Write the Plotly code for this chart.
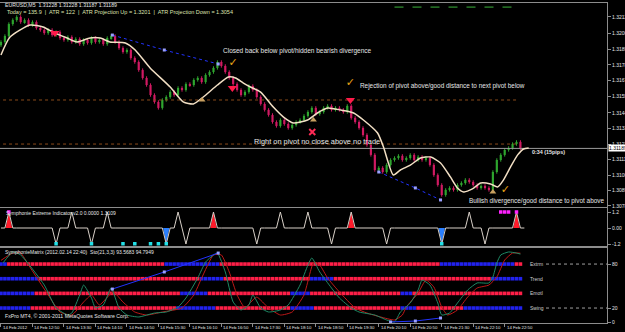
import plotly.graph_objects as go

# ---------------- data ----------------
time_tick_bars = [0, 8, 16, 24, 32, 40, 48, 56, 64, 72, 80, 88, 96, 104, 112, 120, 128]
time_tick_labels = ["14 Feb 2012", "14 Feb 12:50", "14 Feb 13:30", "14 Feb 14:10", "14 Feb 14:50",
                    "14 Feb 15:30", "14 Feb 16:10", "14 Feb 16:50", "14 Feb 17:30", "14 Feb 18:10",
                    "14 Feb 18:50", "14 Feb 19:30", "14 Feb 20:10", "14 Feb 20:50", "14 Feb 21:30",
                    "14 Feb 22:10", "14 Feb 22:50"]
price_ticks = [1.32120, 1.32005, 1.31890, 1.31780, 1.31670, 1.31555, 1.31440, 1.31330,
               1.31220, 1.31110, 1.31000, 1.30890, 1.30782]

first_open = 1.31920
close = [1.31943, 1.31985, 1.32070, 1.32098, 1.32120, 1.32084, 1.32098, 1.32063, 1.32084, 1.32042,
         1.32028, 1.32006, 1.32028, 1.31992, 1.32013, 1.31971, 1.31957, 1.31978, 1.31943, 1.31964,
         1.31928, 1.31957, 1.31936, 1.31971, 1.31943, 1.31957, 1.31928, 1.31971, 1.31985, 1.31943,
         1.31900, 1.31872, 1.31886, 1.31829, 1.31801, 1.31744, 1.31688, 1.31638, 1.31567, 1.31518,
         1.31476, 1.31532, 1.31553, 1.31589, 1.31567, 1.31617, 1.31603, 1.31645, 1.31638, 1.31674,
         1.31688, 1.31659, 1.31709, 1.31730, 1.31759, 1.31801, 1.31773, 1.31730, 1.31688, 1.31645,
         1.31603, 1.31567, 1.31589, 1.31631, 1.31603, 1.31553, 1.31504, 1.31462, 1.31426, 1.31376,
         1.31348, 1.31390, 1.31362, 1.31334, 1.31355, 1.31376, 1.31390, 1.31419, 1.31447, 1.31476,
         1.31433, 1.31447, 1.31476, 1.31490, 1.31462, 1.31476, 1.31462, 1.31447, 1.31490, 1.31405,
         1.31376, 1.31334, 1.31284, 1.31213, 1.31143, 1.31036, 1.31051, 1.31022, 1.31072, 1.31107,
         1.31121, 1.31136, 1.31107, 1.31121, 1.31143, 1.31107, 1.31129, 1.31107, 1.31121, 1.31072,
         1.31000, 1.30930, 1.30859, 1.30895, 1.30909, 1.30895, 1.30930, 1.30944, 1.30966, 1.30951,
         1.30930, 1.30909, 1.30923, 1.30909, 1.30895, 1.31022, 1.31107, 1.31143, 1.31178, 1.31192,
         1.31220, 1.31235, 1.31189]

ma_bars = [0, 2.3, 7.4, 10.7, 13.2, 16.8, 19.3, 22.6, 25.2, 27.7, 31.6, 34.1, 37.9, 43, 46.3,
           48.9, 51.4, 55, 57.8, 59.6, 61.6, 63.4, 65.9, 69.2, 71.8, 74.3, 77.9, 80.4, 83, 86.3,
           89.6, 92.1, 95.7, 97.2, 99.7, 101.5, 104.1, 106.6, 109.2, 111.7, 114.2, 116, 117.6,
           119.8, 121.9, 124.4, 126.2, 127.7, 129.5, 131.3, 132.8, 134.1]
ma_vals = [1.31851, 1.31978, 1.32063, 1.32049, 1.32013, 1.31971, 1.31943, 1.31971, 1.31971, 1.31943,
           1.31936, 1.31886, 1.31759, 1.31624, 1.31518, 1.31504, 1.31553, 1.31638, 1.31695, 1.31688,
           1.31652, 1.31624, 1.31589, 1.31482, 1.31411, 1.31369, 1.31390, 1.31440, 1.31475, 1.31461,
           1.31440, 1.31390, 1.31298, 1.31199, 1.31001, 1.31036, 1.31072, 1.31121, 1.31128, 1.31086,
           1.30987, 1.30909, 1.30881, 1.30902, 1.30944, 1.30937, 1.30916, 1.30966, 1.31058, 1.31143,
           1.31185, 1.31192]

div_main_1_bars = [28.3, 41.5, 55.2]
div_main_1_prices = [1.31992, 1.31886, 1.31787]
div_main_2_bars = [96, 105.3, 111.7]
div_main_2_prices = [1.31022, 1.30909, 1.30824]

pivot_levels = [1.31532, 1.31220]
pivot_end_bar = 131
atr_up_level = 1.32190
atr_line_bars = [100, 132]
bid_price = 1.31189

arrow_down_bars = [13.7, 58.8, 88.8]
arrow_down_prices = [1.32006, 1.31617, 1.31532]
arrow_up_bars = [51.1, 79.4, 125]
arrow_up_prices = [1.31532, 1.31390, 1.30880]
cross_bars = [79.1]
cross_prices = [1.31305]
check_bars = [59, 88.8, 128.2]
check_prices = [1.31794, 1.31652, 1.30895]

# Symphonie Extreme indicator
ext_len = 134
ext_spike_bars = [2, 14, 18, 23, 27, 42, 45, 47, 54, 65, 71, 78, 84, 89, 98, 112, 119, 123, 131]
ext_spike_vals = [1.2, -1.2, 1.2, -1.2, 1.2, -1.2, 1.2, -1.2, 1.2, -1.2, 1.2, 1.2, -1.2, 1.2, -1.2,
                  -1.2, 1.2, -1.2, 1.2]
ext_red_fill_bars = [2, 54, 89, 131]
ext_blue_fill_bars = [42, 112]
ext_cyan_bars = [14, 23, 31, 34, 38, 40, 42, 112]
ext_magenta_bars = [2, 127, 128, 129, 131]

# Symphonie Matrix
sto_main_bars = [0.5, 3, 5, 11, 14, 17, 18, 20, 21, 23, 24, 26, 28, 30, 32, 35, 39, 42, 45, 47, 50,
                 52, 54, 55, 57, 59, 61, 63, 64, 66, 68, 71, 73, 76, 78, 79, 81, 84, 86, 89, 91, 95,
                 98, 100, 101.5, 104, 106, 107, 109, 111, 112, 114, 116, 118.6, 121, 124, 125, 126,
                 127, 129, 131, 132]
sto_main_vals = [81.4, 96.5, 92.4, 51.4, 20.1, 10.5, 13.2, 37.8, 51.4, 33.7, 20.1, 24.2, 47.3, 20.1,
                 10.5, 7.8, 13.2, 14.6, 21.4, 33.7, 61, 82.8, 92.4, 95, 69.2, 28.2, 17.3, 24.2, 37.8,
                 20.1, 14.6, 17.3, 24.2, 51.4, 78.7, 88.3, 69.2, 47.3, 33.7, 20.1, 14.6, 10.5, 3.7, 1,
                 14.6, 26.9, 44.6, 58.2, 51.4, 26.9, 10.5, 13.2, 26.9, 44.6, 54.2, 54.2, 62.3, 81.4,
                 92.4, 96.5, 95, 93.6]
sto_sig_bars = [0, 3, 5, 7, 12, 15, 18, 21, 23, 25, 28.5, 31, 34, 37, 41, 46, 49, 51, 54, 56, 58, 60,
                62, 63.5, 65, 68, 71, 74, 77, 79.5, 81, 83, 86, 90, 93, 96.5, 100, 102, 103, 106, 108,
                110, 112, 113.5, 116, 118.6, 121, 124, 126, 128, 130, 132]
sto_sig_vals = [85, 95, 95, 78.7, 37.8, 14.6, 10.5, 28.2, 37.8, 24.2, 41.9, 28.2, 14.6, 10.5, 14.6,
                20.1, 37.8, 61, 92.4, 92.4, 69.2, 37.8, 20.1, 28.2, 35, 20.1, 10.5, 14.6, 37.8, 82.8,
                78.7, 61, 41.9, 20.1, 13.2, 7.8, 3.7, 10.5, 21.4, 40.5, 58.2, 48.7, 21.4, 10.5, 17.3,
                35, 47.3, 51.4, 62.3, 85.5, 95, 94.8]
div_mx_1_bars = [28.3, 41.5, 55.2]
div_mx_1_vals = [45.9, 69.2, 95]
div_mx_2_bars = [99, 105.3, 111.7]
div_mx_2_vals = [1, 2.3, 6.4]

row_names = ["Extrm", "Trend", "Emotl", "Swing"]
row_levels = [80, 60, 40, 20]
row_segments = [
    [(0, 1, "b"), (2, 41, "r"), (42, 55, "b"), (56, 111, "r"), (112, 130, "b"), (131, 132, "r")],
    [(0, 9, "b"), (10, 50, "r"), (51, 56, "b"), (57, 78, "r"), (79, 84, "b"), (85, 124, "r"), (125, 132, "b")],
    [(0, 8, "b"), (9, 45, "r"), (46, 52, "b"), (53, 73, "r"), (74, 78, "b"), (79, 101, "r"),
     (102, 104, "b"), (105, 132, "r")],
    [(0, 7, "b"), (8, 44, "r"), (45, 54, "b"), (55, 73, "r"), (74, 79, "b"), (80, 101, "r"),
     (102, 105, "b"), (106, 117, "r"), (118, 132, "b")],
]
level_lines = [80, 20]

# ---------------- styles ----------------
BG = "#000000"
UP = "#2fa52f"
DN = "#d01a62"
AXC = "#8c8c8c"
TXT = "#e6e6e6"
FONT = "Liberation Sans"
FS = 5.0

fig = go.Figure()

# ---- candles ----
opens = [first_open] + close[:-1]
wick = 0.00012
for color, is_up in ((UP, True), (DN, False)):
    bx, base, hgt, wx, wy = [], [], [], [], []
    for i, (o, c) in enumerate(zip(opens, close)):
        if (c >= o) != is_up:
            continue
        lo, hi = min(o, c), max(o, c)
        bx.append(i)
        base.append(lo)
        hgt.append(max(hi - lo, 0.00003))
        wx += [i, i, None]
        wy += [lo - wick, hi + wick, None]
    fig.add_trace(go.Scatter(x=wx, y=wy, mode="lines", line=dict(color=color, width=1),
                             xaxis="x2", yaxis="y", hoverinfo="skip"))
    fig.add_trace(go.Bar(x=bx, y=hgt, base=base, width=0.55, marker=dict(color=color, line_width=0),
                         xaxis="x2", yaxis="y", hoverinfo="skip"))

# pivot lines, bid, atr projection
for lv in pivot_levels:
    fig.add_trace(go.Scatter(x=[-1, pivot_end_bar], y=[lv, lv], mode="lines",
                             line=dict(color="#8a4a1a", width=1, dash="dot"), xaxis="x2", yaxis="y"))
fig.add_trace(go.Scatter(x=[-1, 160], y=[bid_price, bid_price], mode="lines",
                         line=dict(color="#9a9a9a", width=1), xaxis="x2", yaxis="y"))
fig.add_trace(go.Scatter(x=atr_line_bars, y=[atr_up_level] * 2, mode="lines",
                         line=dict(color="#3cb43c", width=1, dash="dash"), xaxis="x2", yaxis="y"))

# moving average
fig.add_trace(go.Scatter(x=ma_bars, y=ma_vals, mode="lines",
                         line=dict(color="#f2dfc4", width=1.5, shape="spline", smoothing=0.6),
                         xaxis="x2", yaxis="y"))

# divergence lines main
for bxs, pys in ((div_main_1_bars, div_main_1_prices), (div_main_2_bars, div_main_2_prices)):
    fig.add_trace(go.Scatter(x=bxs, y=pys, mode="lines+markers",
                             line=dict(color="#2233ff", width=1, dash="dot"),
                             marker=dict(symbol="square", size=3, color="#9aa0ff"),
                             xaxis="x2", yaxis="y"))

# signals
fig.add_trace(go.Scatter(x=arrow_down_bars, y=arrow_down_prices, mode="markers",
                         marker=dict(symbol="triangle-down", size=8, color="#ff1a4a"),
                         xaxis="x2", yaxis="y"))
fig.add_trace(go.Scatter(x=arrow_up_bars, y=arrow_up_prices, mode="markers",
                         marker=dict(symbol="triangle-up", size=6, color="#c8a060"),
                         xaxis="x2", yaxis="y"))
fig.add_trace(go.Scatter(x=cross_bars, y=cross_prices, mode="markers",
                         marker=dict(symbol="x-thin", size=6, color="#ff2a55",
                                     line=dict(color="#ff2a55", width=2)),
                         xaxis="x2", yaxis="y"))
fig.add_trace(go.Scatter(x=check_bars, y=check_prices, mode="text", text=["\u2713"] * len(check_bars),
                         textfont=dict(color="#e8a317", size=11, family="DejaVu Sans"),
                         xaxis="x2", yaxis="y"))

# ---- extreme indicator ----
ext = [0.0] * ext_len
for b, v in zip(ext_spike_bars, ext_spike_vals):
    ext[b] = v
spike = dict(zip(ext_spike_bars, ext_spike_vals))
for bars_list, col in ((ext_red_fill_bars, "#ff1a2a"), (ext_blue_fill_bars, "#2a7fff")):
    for b in bars_list:
        fig.add_trace(go.Scatter(x=[b - 0.8, b, b + 0.8, b - 0.8], y=[0, spike[b], 0, 0], mode="lines",
                                 fill="toself", fillcolor=col, line=dict(color=col, width=0),
                                 xaxis="x3", yaxis="y2"))
fig.add_trace(go.Scatter(x=list(range(ext_len)), y=ext, mode="lines",
                         line=dict(color="#d8d0c8", width=1), xaxis="x3", yaxis="y2"))
fig.add_trace(go.Scatter(x=ext_cyan_bars, y=[-1.18] * len(ext_cyan_bars), mode="markers",
                         marker=dict(symbol="square", size=3.5, color="#22e0e8"),
                         xaxis="x3", yaxis="y2"))
fig.add_trace(go.Scatter(x=ext_magenta_bars, y=[1.2] * len(ext_magenta_bars), mode="markers",
                         marker=dict(symbol="square", size=3.5, color="#ff22ff"),
                         xaxis="x3", yaxis="y2"))

# ---- matrix ----
for lv in level_lines:
    fig.add_trace(go.Scatter(x=[138.5, 156], y=[lv, lv], mode="lines",
                             line=dict(color="#a0a0a0", width=1, dash="dot"), xaxis="x", yaxis="y3"))
for lv, segs in zip(row_levels, row_segments):
    xs, cols = [], []
    for s, e, c in segs:
        for b in range(s, e + 1):
            xs.append(b)
            cols.append("#ff1f48" if c == "r" else "#2222ee")
    fig.add_trace(go.Scatter(x=xs, y=[lv] * len(xs), mode="markers",
                             marker=dict(symbol="square", size=3.6, color=cols, line_width=0),
                             xaxis="x", yaxis="y3"))
fig.add_trace(go.Scatter(x=sto_sig_bars, y=sto_sig_vals, mode="lines",
                         line=dict(color="#c01818", width=1, shape="spline", smoothing=0.5),
                         xaxis="x", yaxis="y3"))
fig.add_trace(go.Scatter(x=sto_main_bars, y=sto_main_vals, mode="lines",
                         line=dict(color="#1f8a66", width=1, shape="spline", smoothing=0.5),
                         xaxis="x", yaxis="y3"))
for bxs, vys in ((div_mx_1_bars, div_mx_1_vals), (div_mx_2_bars, div_mx_2_vals)):
    fig.add_trace(go.Scatter(x=bxs, y=vys, mode="lines+markers",
                             line=dict(color="#2233ff", width=1),
                             marker=dict(symbol="square", size=3, color="#9aa0ff"),
                             xaxis="x", yaxis="y3"))

# ---------------- layout ----------------
PW, TOP, BOT = 607, 3, 323
H = BOT - TOP


def px(x):
    return x / PW


def py(y):
    return (BOT - y) / H


def ann(text, x, y, color=TXT, size=FS, **kw):
    d = dict(text=text, x=px(x), y=py(y), xref="paper", yref="paper", showarrow=False,
             xanchor="left", yanchor="middle", font=dict(color=color, size=size, family=FONT))
    d.update(kw)
    return d


annotations = [
    ann("EURUSD,M5  1.31228 1.31228 1.31187 1.31189", 3, 5, size=5.2),
    ann("Today = 135.9  |  ATR = 122  |  ATR Projection Up = 1.3201  |  ATR Projection Down = 1.3054",
        5, 12, color="#dfe3b0", size=5.5),
    ann("Closed back below pivot/hidden bearish divergence", 221, 51, size=6.5),
    ann("Rejection of pivot above/good distance to next pivot below", 358, 86, size=6.4),
    ann("Right on pivot no close above no trade", 252, 141, size=7.4),
    ann("Bullish divergence/good distance to pivot above", 467, 201, size=6.4),
    ann("<b>0:34 (15pips)</b>", 530, 152, size=5.4),
    ann("Symphonie Extreme Indicator v2.0 0.0000 1.3109", 4, 213, size=5.0),
    ann("SymphonieMatrix (2012.02.14 22:40)  Sto(21,3,3) 93.5683 94.7949", 3, 252, size=5.0),
    ann("FxPro MT4, \u00a9 2001-2011 MetaQuotes Software Corp.", 3, 316, size=5.2),
    dict(text="1.31189", x=1, y=bid_price, xref="paper", yref="y", showarrow=False, xanchor="left",
         yanchor="middle", xshift=1, bgcolor="#ffffff", borderpad=0,
         font=dict(color="#000000", size=FS, family=FONT)),
]
for name, lv in zip(row_names, row_levels):
    annotations.append(dict(text=name, x=133.8, y=lv, xref="x", yref="y3", showarrow=False,
                            xanchor="left", yanchor="middle",
                            font=dict(color="#cfcfcf", size=FS, family=FONT)))
# time labels: MT4 style, left-aligned at the tick
for b, lab in zip(time_tick_bars, time_tick_labels):
    annotations.append(dict(text=lab, x=b, y=py(327.5), xref="x", yref="paper", showarrow=False,
                            xanchor="left", yanchor="middle", xshift=0,
                            font=dict(color=TXT, size=4.3, family=FONT)))

axis_font = dict(color=TXT, size=FS, family=FONT)
xcommon = dict(range=[-0.25, 154.0], showgrid=False, zeroline=False, showline=True, mirror=True,
               linecolor=AXC, linewidth=1, automargin=False)
ycommon = dict(side="right", showgrid=False, zeroline=False, showline=True, linecolor=AXC,
               linewidth=1, ticks="outside", ticklen=3, tickcolor=AXC, tickfont=axis_font,
               automargin=False)

fig.update_layout(
    width=625, height=332, margin=dict(l=0, r=18, t=TOP, b=332 - BOT, autoexpand=False),
    paper_bgcolor=BG, plot_bgcolor=BG, showlegend=False, barmode="overlay",
    font=dict(family=FONT, color=TXT, size=FS),
    xaxis=dict(**xcommon, anchor="y3", tickvals=time_tick_bars, showticklabels=False,
               ticks="outside", ticklen=3, tickcolor=AXC),
    xaxis2=dict(**xcommon, anchor="y", matches="x", showticklabels=False, ticks=""),
    xaxis3=dict(**xcommon, anchor="y2", matches="x", showticklabels=False, ticks=""),
    yaxis=dict(**ycommon, domain=[py(207), 1.0], range=[1.30774, 1.32219], anchor="x2",
               tickvals=price_ticks, ticktext=["%.5f" % v for v in price_ticks]),
    yaxis2=dict(**ycommon, domain=[py(246), py(208)], range=[-1.35, 1.5], anchor="x3",
                tickvals=[1.2, 0, -1.2], ticktext=["1.2", "0.00", "-1.2"]),
    yaxis3=dict(**ycommon, domain=[0, py(248)], range=[-0.4, 101.9], anchor="x",
                tickvals=[80, 20, 0], ticktext=["80", "20", "0"]),
    annotations=annotations,
)

fig.write_html("out.html")
